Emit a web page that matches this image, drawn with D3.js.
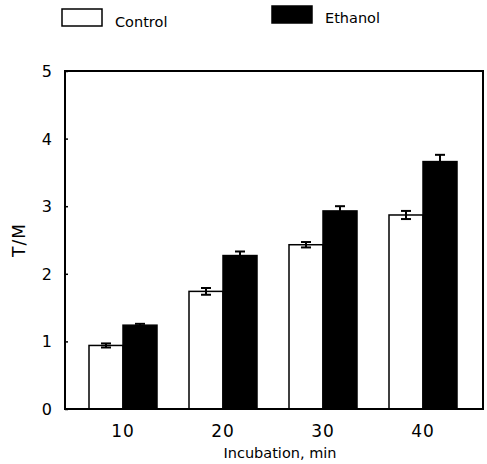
<!DOCTYPE html>
<html>
<head>
<meta charset="utf-8">
<script src="https://cdn.jsdelivr.net/npm/d3@7"></script>
<style>
  body { margin: 0; background: #fff; }
  svg { display: block; font-family: "DejaVu Sans", Arial, sans-serif; }
</style>
</head>
<body>
<svg id="chart"></svg>
<script>
// T/M ratio, control vs ethanol, by incubation time
const width = 487;
const height = 464;

const categories = ["10", "20", "30", "40"];
const seriesNames = ["Control", "Ethanol"];
const controlValues = [0.94, 1.74, 2.43, 2.87];
const ethanolValues = [1.24, 2.27, 2.93, 3.66];
const controlErrors = [0.03, 0.05, 0.04, 0.06];
const ethanolErrors = [0.02, 0.06, 0.07, 0.10];
const yTicks = [0, 1, 2, 3, 4, 5];

const svg = d3.select("#chart")
    .attr("width", width)
    .attr("height", height);

const plot = { left: 65, right: 483, top: 71, bottom: 409 };

const x = d3.scaleBand()
    .domain(categories)
    .range([72, 472]);

const xInner = d3.scaleBand()
    .domain(seriesNames)
    .range([17, 85]);

const y = d3.scaleLinear()
    .domain([0, 5])
    .range([plot.bottom, plot.top]);

const fills = { Control: "#fff", Ethanol: "#000" };

// rows for drawing
const rows = [];
categories.forEach((c, i) => {
    rows.push({ cat: c, series: "Control", value: controlValues[i], err: controlErrors[i] });
    rows.push({ cat: c, series: "Ethanol", value: ethanolValues[i], err: ethanolErrors[i] });
});

// bars
svg.append("g").selectAll("rect")
    .data(rows)
    .enter()
    .append("rect")
    .attr("x", d => x(d.cat) + xInner(d.series))
    .attr("y", d => y(d.value))
    .attr("width", xInner.bandwidth())
    .attr("height", d => y(0) - y(d.value))
    .attr("fill", d => fills[d.series])
    .attr("stroke", "#000")
    .attr("stroke-width", 1.5);

// error bars
const errG = svg.append("g").attr("stroke", "#000").attr("stroke-width", 2);
rows.forEach(d => {
    const cx = x(d.cat) + xInner(d.series) + xInner.bandwidth() / 2;
    const capW = 5;
    errG.append("line")
        .attr("x1", cx).attr("x2", cx)
        .attr("y1", y(d.value - d.err)).attr("y2", y(d.value + d.err));
    [d.value - d.err, d.value + d.err].forEach(v => {
        errG.append("line")
            .attr("x1", cx - capW).attr("x2", cx + capW)
            .attr("y1", y(v)).attr("y2", y(v));
    });
});

// frame
svg.append("rect")
    .attr("x", plot.left)
    .attr("y", plot.top)
    .attr("width", plot.right - plot.left)
    .attr("height", plot.bottom - plot.top)
    .attr("fill", "none")
    .attr("stroke", "#000")
    .attr("stroke-width", 2);

// y axis (small inward ticks)
const yAxis = svg.append("g")
    .attr("transform", `translate(${plot.left},0)`)
    .call(d3.axisRight(y).tickValues(yTicks).tickSize(3).tickFormat(""));
yAxis.select(".domain").remove();
yAxis.selectAll("line").attr("stroke", "#000").attr("stroke-width", 1.5);

svg.append("g").selectAll("text")
    .data(yTicks)
    .enter()
    .append("text")
    .attr("x", 52)
    .attr("y", d => y(d) + 6)
    .attr("text-anchor", "end")
    .attr("font-size", 16)
    .text(d => d);

// x labels
svg.append("g").selectAll("text")
    .data(categories)
    .enter()
    .append("text")
    .attr("x", d => x(d) + x.bandwidth() / 2 + 1)
    .attr("y", 437)
    .attr("text-anchor", "middle")
    .attr("font-size", 17)
    .attr("letter-spacing", 1)
    .text(d => d);

svg.append("text")
    .attr("x", 280)
    .attr("y", 458)
    .attr("text-anchor", "middle")
    .attr("font-size", 14.5)
    .text("Incubation,  min");

svg.append("text")
    .attr("transform", "translate(25,240) rotate(-90)")
    .attr("text-anchor", "middle")
    .attr("font-size", 17)
    .attr("letter-spacing", 1)
    .text("T/M");

// legend
const legend = [
    { name: "Control", rx: 62, ry: 9, tx: 115, ty: 27 },
    { name: "Ethanol", rx: 272, ry: 6, tx: 325, ty: 23 }
];
legend.forEach(l => {
    svg.append("rect")
        .attr("x", l.rx).attr("y", l.ry)
        .attr("width", 40).attr("height", 17)
        .attr("fill", fills[l.name])
        .attr("stroke", "#000")
        .attr("stroke-width", 1.5);
    svg.append("text")
        .attr("x", l.tx).attr("y", l.ty)
        .attr("font-size", 14.5)
        .text(l.name);
});
</script>
</body>
</html>
